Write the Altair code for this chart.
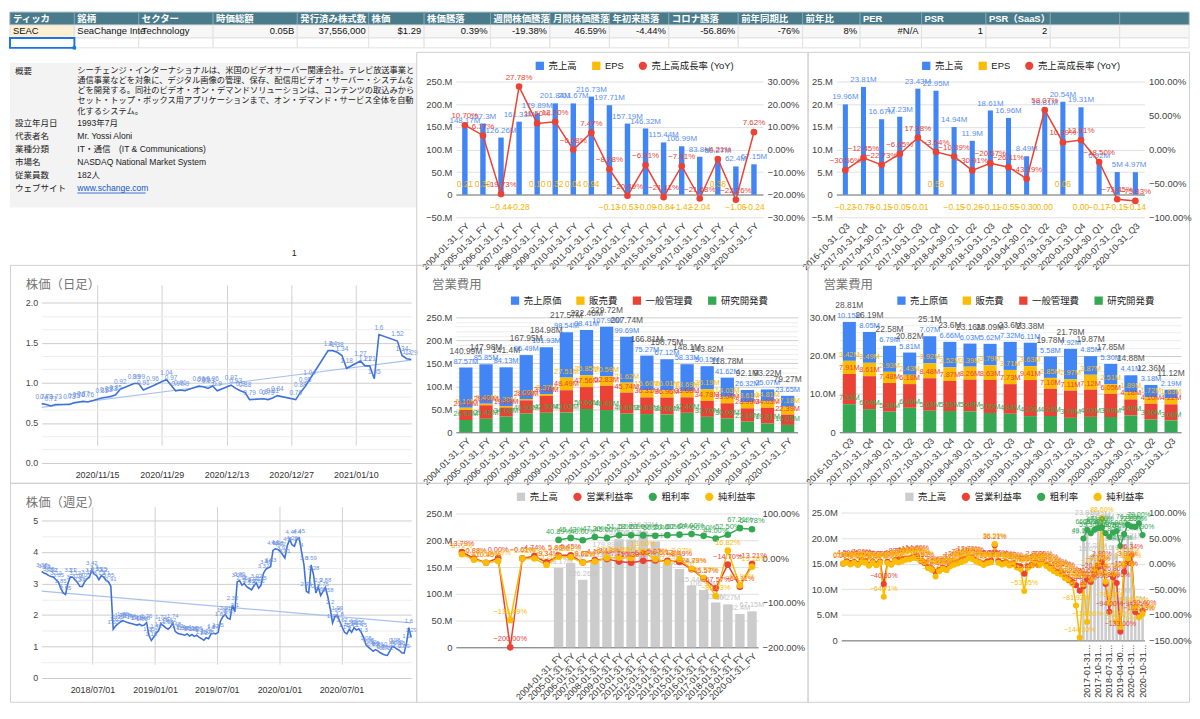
import altair as alt
import pandas as pd

# =============================== DATA ===============================
HEADERS = ["ティッカ", "銘柄", "セクター", "時価総額", "発行済み株式数", "株価", "株価騰落",
           "週間株価騰落", "月間株価騰落", "年初来騰落", "コロナ騰落", "前年同期比", "前年比",
           "PER", "PSR", "PSR（SaaS）", "", ""]
ROW_VALUES = ["SEAC", "SeaChange Inte", "Technology", "0.05B", "37,556,000", "$1.29", "0.39%",
              "-19.38%", "46.59%", "-4.44%", "-56.86%", "-76%", "8%", "#N/A", "1", "2", "", ""]

INFO_LABELS = ["概要", "設立年月日", "代表者名", "業種分類", "市場名", "従業員数", "ウェブサイト"]
INFO_VALUES = ["", "1993年7月", "Mr. Yossi Aloni", "IT・通信　(IT & Communications)",
               "NASDAQ National Market System", "182人", "www.schange.com"]
DESC_LINES = [
    "シーチェンジ・インターナショナルは、米国のビデオサーバー関連会社。テレビ放送事業と",
    "通信事業などを対象に、デジタル画像の管理、保存、配信用ビデオ・サーバー・システムな",
    "どを開発する。同社のビデオ・オン・デマンドソリューションは、コンテンツの取込みから",
    "セット・トップ・ボックス用アプリケーションまで、オン・デマンド・サービス全体を自動",
    "化するシステム。",
]
PAGE_NO = "1"

FY = ["2004-01-31_FY", "2005-01-31_FY", "2006-01-31_FY", "2007-01-31_FY", "2008-01-31_FY",
      "2009-01-31_FY", "2010-01-31_FY", "2011-01-31_FY", "2012-01-31_FY", "2013-01-31_FY",
      "2014-01-31_FY", "2015-01-31_FY", "2016-01-31_FY", "2017-01-31_FY", "2018-01-31_FY",
      "2019-01-31_FY", "2020-01-31_FY"]
REV_FY = [148.17, 157.30, 126.26, 161.33, 179.89, 201.84, 201.67, 216.73, 197.71, 157.19,
          146.32, 115.44, 106.99, 83.80, 80.27, 62.40, 67.15]
EPS_FY = [0.21, 0.30, -0.44, -0.28, 0.10, 0.32, 0.04, 0.94, -0.13, -0.53, -0.09, -0.84,
          -1.42, -2.04, 0.38, -1.06, -0.24]
YOY_FY = [10.70, 6.17, -19.73, 27.78, 11.50, 12.20, -0.08, 7.47, -8.78, -20.49, -6.91,
          -21.11, -7.31, -21.68, -4.21, -22.26, 7.62]

Q = ["2016-10-31_Q3", "2017-01-31_Q4", "2017-04-30_Q1", "2017-07-31_Q2", "2017-10-31_Q3",
     "2018-01-31_Q4", "2018-04-30_Q1", "2018-07-31_Q2", "2018-10-31_Q3", "2019-01-31_Q4",
     "2019-04-30_Q1", "2019-07-31_Q2", "2019-10-31_Q3", "2020-01-31_Q4", "2020-04-30_Q1",
     "2020-07-31_Q2", "2020-10-31_Q3"]
REV_Q = [19.96, 23.81, 16.67, 17.23, 23.43, 22.95, 14.94, 11.90, 18.61, 16.96, 8.49, 18.81,
         20.54, 19.31, 6.92, 5.00, 4.97]
EPS_Q = [-0.23, -0.78, -0.15, -0.05, -0.01, 0.58, -0.15, -0.26, -0.11, -0.55, -0.30, 0.00,
         0.06, 0.00, -0.17, -0.15, -0.14]
YOY_Q = [-30.56, -12.45, -22.73, -6.65, 17.38, -3.64, -10.39, -30.91, -20.57, -26.11, -43.19,
         58.07, 10.39, 13.91, -18.50, -73.45, -75.83]

DAILY_DATES = ["2020-11-03", "2020-11-04", "2020-11-05", "2020-11-06", "2020-11-09", "2020-11-10",
               "2020-11-11", "2020-11-12", "2020-11-13", "2020-11-16", "2020-11-17", "2020-11-18",
               "2020-11-19", "2020-11-20", "2020-11-23", "2020-11-24", "2020-11-25", "2020-11-27",
               "2020-11-30", "2020-12-01", "2020-12-02", "2020-12-03", "2020-12-04", "2020-12-07",
               "2020-12-08", "2020-12-09", "2020-12-10", "2020-12-11", "2020-12-14", "2020-12-15",
               "2020-12-16", "2020-12-17", "2020-12-18", "2020-12-21", "2020-12-22", "2020-12-23",
               "2020-12-24", "2020-12-28", "2020-12-29", "2020-12-30", "2020-12-31", "2021-01-04",
               "2021-01-05", "2021-01-06", "2021-01-07", "2021-01-08", "2021-01-11", "2021-01-12",
               "2021-01-13", "2021-01-14", "2021-01-15", "2021-01-19", "2021-01-20", "2021-01-21",
               "2021-01-22"]
DAILY_CLOSE = [0.74, 0.73, 0.71, 0.73, 0.73, 0.75, 0.76, 0.77, 0.76, 0.81, 0.82, 0.83, 0.85,
               0.92, 0.99, 0.99, 0.91, 0.96, 1.04, 0.97, 0.90, 0.91, 0.90, 0.96, 0.95, 0.93,
               0.96, 0.90, 0.97, 0.93, 0.90, 0.88, 0.79, 0.80, 0.79, 0.81, 0.84, 0.79, 0.88,
               0.95, 1.04, 1.40, 1.40, 1.38, 1.34, 1.18, 1.27, 1.21, 1.21, 1.05, 1.60, 1.52,
               1.34, 1.30, 1.29]

WEEKLY_START = "2018-02-02"
WEEKLY_CLOSE = [3.38, 3.33, 3.30, 3.25, 3.22, 3.20, 3.12, 3.05, 2.85, 2.70,
                2.65, 3.00, 3.21, 3.20, 3.12, 3.03, 2.91, 2.90, 3.05, 3.15,
                3.20, 3.42, 3.30, 3.25, 3.12, 3.25, 3.20, 3.10, 3.05, 2.91,
                1.55, 1.65, 1.72, 1.78, 1.82, 1.79, 1.76, 1.74, 1.72, 1.70,
                1.68, 1.71, 1.66, 1.68, 1.76, 1.35, 1.19, 1.30, 1.42, 1.50,
                1.72, 1.66, 1.60, 1.55, 1.62, 1.74, 1.48, 1.42, 1.40, 1.38,
                1.36, 1.40, 1.33, 1.38, 1.32, 1.36, 1.30, 1.25, 1.20, 1.28,
                1.25, 1.40, 1.42, 1.40, 1.45, 1.81, 1.95, 2.01, 1.90, 1.87,
                2.32, 2.10, 3.05, 3.09, 2.95, 3.00, 2.90, 2.85, 2.80, 2.92,
                3.02, 2.85, 2.95, 3.32, 3.45, 3.50, 3.53, 4.05, 4.10, 4.08,
                4.02, 3.92, 3.81, 4.20, 4.40, 4.23, 4.18, 4.40, 4.45, 4.00,
                3.60, 2.75, 2.70, 3.59, 3.28, 2.70, 2.90, 2.62, 2.75, 2.88,
                2.58, 2.20, 1.75, 1.95, 1.99, 1.80, 1.62, 1.45, 1.40, 1.55,
                1.45, 1.60, 1.52, 1.56, 1.45, 1.30, 1.05, 0.98, 0.92, 0.85,
                0.90, 0.86, 0.80, 0.76, 0.73, 0.72, 0.85, 1.00, 0.98, 0.92,
                0.88, 0.80, 0.79, 1.10, 1.60, 1.29]

OPEX_SERIES = ["売上原価", "販売費", "一般管理費", "研究開発費"]
COGS_FY = [87.57, 85.85, 84.13, 95.49, 101.93, 98.54, 98.41, 107.90, 99.69, 75.27, 67.12,
           58.33, 50.15, 41.62, 26.32, 25.07, 23.65]
SELL_FY = [5.10, 3.40, 3.30, 3.00, 3.37, 27.51, 25.85, 20.59, 21.62, 15.60, 16.01, 13.69,
           25.19, 14.03, 13.61, 14.81, 17.18]
GA_FY = [21.39, 29.31, 19.89, 28.53, 37.38, 48.49, 47.56, 52.83, 45.74, 36.31, 36.96, 33.68,
         34.78, 33.04, 28.99, 34.03, 22.39]
RD_FY = [26.93, 29.42, 34.08, 40.93, 42.30, 43.03, 50.66, 48.40, 40.69, 39.63, 38.66, 42.40,
         33.70, 30.09, 23.18, 19.31, 16.05]
COGS_Q = [10.15, 8.05, 6.79, 5.81, 7.07, 6.66, 6.03, 5.62, 7.32, 6.11, 5.58, 7.92, 4.85, 5.30,
          4.41, 3.18, 2.19]
SELL_Q = [3.42, 3.49, 2.93, 2.43, 3.92, 3.52, 3.39, 3.79, 3.71, 3.63, 2.85, 2.97, 3.87, 2.51,
          1.89, 1.72, 1.63]
GA_Q = [7.91, 8.61, 7.48, 6.18, 8.48, 7.87, 8.26, 8.63, 7.73, 9.41, 7.10, 7.11, 7.12, 6.05,
        4.18, 4.10, 4.22]
RD_Q = [7.33, 6.04, 5.38, 6.40, 5.63, 5.55, 5.48, 5.05, 4.84, 4.23, 4.25, 3.78, 4.03, 3.99,
        4.40, 3.36, 3.08]

MARGIN_SERIES = ["売上高", "営業利益率", "粗利率", "純利益率"]
# annual margins: 8 earlier unlabeled periods + the 17 fiscal years
OPM_FY = [13.79, -0.88, -10.45, 0.00, -200.0, -0.61, 4.74, -9.34,
          5.80, 6.45, -9.62, -4.10, -2.18, -7.79, -10.30, -6.00, -5.07, -6.12, -8.49,
          -24.79, -45.57, -67.57, -14.70, -64.11, -13.21]
NPM_FY = [8.72, -3.53, -10.50, -6.69, -138.89, -1.02, -0.93, -15.26,
          3.05, 1.82, -9.75, -7.77, 0.57, 0.74, 0.56, 13.60, -2.03, -10.03, -2.07,
          -23.81, -44.58, -85.03, 16.82, -60.90, -19.28]
GPM_FY = [40.89, 45.43, 40.00, 47.30, 45.00, 51.18, 51.20, 51.00, 50.20, 51.50, 52.60, 54.00,
          50.00, 44.00, 52.50, 67.21, 64.78]
# quarterly margins: 65 earlier unlabeled quarters + the 17 recent quarters
OPM_Q = [0.00, 4.5, 1.2, 3.0, -0.8, 7.3, 5.1, -2.2, 3.9, -0.5, 4.0, -40.0, 3.5, -0.9, 6.2,
         8.39, 9.54, 9.91, 10.6, 13.9, 14.8, 5.2, 1.5, -7.29, -10.3, -16.4, -12.1, -8.6, -9.9,
         -3.2, 1.4, 2.74, 7.15, 9.48, 12.7, 11.4, 6.2, 2.9, 0.3, 4.5, 6.04, 36.21, 5.7, 1.4,
         3.4, -1.9, 0.8, -4.4, -5.5, -19.81, -5.61, -1.5, 2.9, -0.8, 3.2, -2.1, -7.6, -12.8,
         -16.5, -18.49, -26.3, -30.2, -35.5, -42.1, -52.8,
         -44.3, -30.61, -35.5, -20.8, -7.1, 2.8, -39.94, -94.0, -26.8, -37.9, -133.0, -15.8,
         3.3, 16.34, -94.45, -102.13, -92.4]
NPM_Q = [0.49, 2.1, -1.5, 1.8, -2.5, 3.2, 2.0, -4.1, 1.5, -3.0, 2.4, -64.71, 1.1, -2.2, 4.5,
         2.3, 5.1, 7.8, 8.5, 11.2, 10.4, 6.3, 3.1, -8.2, -12.4, -25.03, -14.7, -10.2, -12.76,
         -5.13, -2.0, 0.5, 3.2, 5.6, 11.0, 8.9, 4.1, 1.2, -2.5, 0.8, 2.3, 38.5, 1.9, -1.8, 0.6,
         -3.4, -1.3, -7.6, -10.61, -53.55, -8.2, -3.6, 0.4, -2.9, 1.5, -4.3, -9.94, -14.8,
         -18.65, -21.2, -28.4, -32.9, -38.90, -81.92, -144.3,
         -40.3, -114.06, -31.5, -10.2, -1.5, 88.6, -35.1, -76.30, -20.56, -113.5, -123.7, 0.0,
         10.2, 0.0, -86.0, -105.0, -98.6]
GPM_Q = [49.16, 66.20, 59.30, 66.30, 69.80, 71.00, 59.60, 52.80, 60.70, 64.00, 34.27, 57.90,
         76.38, 72.60, 71.90, 79.00, 55.90]
Q_SHOWN = ["2017-01-31_Q4", "2017-10-31_Q3", "2018-07-31_Q2", "2019-04-30_Q1",
           "2020-01-31_Q4", "2020-10-31_Q3"]

# =============================== STYLE / LAYOUT ===============================
FONT = "Liberation Sans, Noto Sans CJK JP, sans-serif"
BLUE, YELLOW, RED, GREEN, GREYBAR = "#4285f4", "#fbbc04", "#ea4335", "#34a853", "#cccccc"
LINE_BLUE, TREND_BLUE, LBL_BLUE = "#3f72d9", "#a9c1f0", "#6b92e3"
TITLE_GREY = "#757575"
GRID = "#e0e0e0"
AX_LBL = "#333333"
HDR_BG, HDR_LINE, TICKER_BG, ROW_BG, CELL_LINE = "#4a7b8b", "#7fa3af", "#fcefd3", "#f7f7f7", "#e2e2e2"

COL_EDGES = [0, 65, 130, 205, 290, 362, 418, 485, 545, 605, 665, 735, 800, 858, 920, 985,
             1050, 1120, 1190]
ROW_EDGES = [0, 13, 26, 36]
TABLE_W, TABLE_H = 1190, 38
COLW = [410, 395, 385]
ROWH = [215, 220, 221]
INFO_SLOTS = [0, 4, 5, 6, 7, 8, 9]
XLBL = 9
YLBL = 9.5

PCT = "format(datum.value, '.2f') + '%'"


def grid_zero():
    return {"condition": {"test": "datum.value === 0", "value": "#5f6368"}, "value": GRID}


def title(text):
    return alt.TitleParams(text, anchor="start", frame="group", offset=-27, dx=16, fontSize=12.5,
                           fontWeight="normal", color=TITLE_GREY, font=FONT)


# =============================== TABLE ===============================
def table_chart():
    n = len(HEADERS)
    xs = alt.Scale(domain=list(range(n + 1)), range=COL_EDGES, zero=False, nice=False)
    ys = alt.Scale(domain=[0, 1, 2, 3], range=ROW_EDGES, zero=False, nice=False)
    cells = pd.DataFrame({"col": list(range(n)) * 3, "row": [0] * n + [1] * n + [2] * n})
    rect = alt.Chart(cells).transform_calculate(
        c2="datum.col + 1", r2="datum.row + 1",
        fill=f"datum.row == 0 ? '{HDR_BG}' : (datum.row == 1 ? (datum.col == 0 ? '{TICKER_BG}' : '{ROW_BG}') : '#ffffff')",
        strk=f"datum.row == 0 ? '{HDR_LINE}' : '{CELL_LINE}'",
    ).mark_rect(strokeWidth=1).encode(
        x=alt.X("col:Q", scale=xs, axis=None), x2="c2:Q",
        y=alt.Y("row:Q", scale=ys, axis=None), y2="r2:Q",
        fill=alt.Fill("fill:N", scale=None), stroke=alt.Stroke("strk:N", scale=None))
    hdr = alt.Chart(pd.DataFrame({"col": list(range(n)), "txt": HEADERS})).transform_calculate(
        ym="0.5").mark_text(align="left", dx=3, baseline="middle", color="white",
                            fontWeight="bold", fontSize=9.5, font=FONT).encode(
        x=alt.X("col:Q", scale=xs, axis=None), y=alt.Y("ym:Q", scale=ys, axis=None), text="txt:N")
    vals = alt.Chart(pd.DataFrame({"col": list(range(n)), "txt": ROW_VALUES}))
    vleft = vals.transform_filter("datum.col < 3").transform_calculate(ym="1.5").mark_text(
        align="left", dx=3, baseline="middle", color="#111", fontSize=9.5, font=FONT).encode(
        x=alt.X("col:Q", scale=xs, axis=None), y=alt.Y("ym:Q", scale=ys, axis=None), text="txt:N")
    vright = vals.transform_filter("datum.col >= 3").transform_calculate(
        ym="1.5", xe="datum.col + 1").mark_text(
        align="right", dx=-3, baseline="middle", color="#111", fontSize=9.5, font=FONT).encode(
        x=alt.X("xe:Q", scale=xs, axis=None), y=alt.Y("ym:Q", scale=ys, axis=None), text="txt:N")
    sel = alt.Chart(pd.DataFrame({"col": [0], "row": [2]})).transform_calculate(
        c2="datum.col + 1", r2="datum.row + 1")
    sel_rect = sel.mark_rect(fill="white", stroke="#1a73e8", strokeWidth=2).encode(
        x=alt.X("col:Q", scale=xs, axis=None), x2="c2:Q",
        y=alt.Y("row:Q", scale=ys, axis=None), y2="r2:Q")
    sel_handle = sel.mark_square(size=12, color="#1a73e8", opacity=1).encode(
        x=alt.X("c2:Q", scale=xs, axis=None), y=alt.Y("r2:Q", scale=ys, axis=None))
    return alt.layer(rect, hdr, vleft, vright, sel_rect, sel_handle).properties(
        width=TABLE_W, height=TABLE_H, view=alt.ViewBackground(stroke="transparent"))


# =============================== INFO ===============================
def info_chart(W, H):
    xs = alt.Scale(domain=[0, 1], range=[5, 68], zero=False, nice=False)
    ys = alt.Scale(domain=[0, 9], range=[19.5, 137.5], zero=False, nice=False)
    df = pd.DataFrame({"label": INFO_LABELS, "value": INFO_VALUES, "slot": INFO_SLOTS})
    one = pd.DataFrame({"k": [0]})
    bg = alt.Chart(one).mark_rect(color="#f3f3f3").encode(
        x=alt.value(0), x2=alt.value(W), y=alt.value(11), y2=alt.value(157))
    base = alt.Chart(df).transform_calculate(c0="0", c1="1")
    labels = base.mark_text(align="left", baseline="middle", fontSize=8.6, color="#222",
                            font=FONT).encode(
        x=alt.X("c0:Q", scale=xs, axis=None), y=alt.Y("slot:Q", scale=ys, axis=None), text="label:N")
    values = base.transform_filter("datum.slot > 0 && datum.slot < 9").mark_text(
        align="left", baseline="middle", fontSize=8.6, color="#222", font=FONT).encode(
        x=alt.X("c1:Q", scale=xs, axis=None), y=alt.Y("slot:Q", scale=ys, axis=None), text="value:N")
    link = base.transform_filter("datum.slot == 9").mark_text(
        align="left", baseline="middle", fontSize=8.6, color="#1155cc", font=FONT).encode(
        x=alt.X("c1:Q", scale=xs, axis=None), y=alt.Y("slot:Q", scale=ys, axis=None), text="value:N")
    desc = alt.Chart(pd.DataFrame({"t": ["\n".join(DESC_LINES)], "slot": [0]})).transform_calculate(
        c1="1").mark_text(align="left", baseline="top", dy=-5, lineBreak="\n", lineHeight=10.2,
                          fontSize=8.3, color="#222", font=FONT).encode(
        x=alt.X("c1:Q", scale=xs, axis=None), y=alt.Y("slot:Q", scale=ys, axis=None), text="t:N")
    underline = alt.Chart(one).mark_rule(color="#1155cc", strokeWidth=0.8).encode(
        x=alt.value(68), x2=alt.value(137), y=alt.value(142.5))
    page = alt.Chart(pd.DataFrame({"t": [PAGE_NO]})).mark_text(
        fontSize=9, color="#222", font=FONT).encode(x=alt.value(287), y=alt.value(203), text="t:N")
    return alt.layer(bg, labels, values, link, desc, underline, page).properties(
        width=W, height=H, view=alt.ViewBackground(stroke="transparent"))


# =============================== REVENUE (bars + EPS + YoY) ===============================
LEG_REV = ["売上高", "EPS", "売上高成長率 (YoY)"]


def revenue_panel(cats, rev, eps, yoy, W, H, xr, yr, ydom, yvals, ylab, rdom, rvals, legx, pad):
    df = pd.DataFrame({"cat": cats, "rev": rev, "eps": eps, "yoy": yoy})
    df["s_rev"] = LEG_REV[0]
    df["s_yoy"] = LEG_REV[2]
    df["zero"] = 0.0
    cs = alt.Scale(domain=LEG_REV, range=[BLUE, YELLOW, RED])
    ss = alt.Scale(domain=LEG_REV, range=["square", "square", "circle"])
    leg = alt.Legend(orient="none", legendX=legx, legendY=9, direction="horizontal", title=None,
                     symbolSize=70, columnPadding=14, labelFontSize=9.5)

    def X():
        return alt.X("cat:N", sort=cats,
                     scale=alt.Scale(domain=cats, range=xr, paddingInner=pad, paddingOuter=pad / 2),
                     axis=alt.Axis(title=None, labelAngle=-45, labelAlign="right", labelBaseline="top",
                                   offset=yr[0] - H, labelPadding=4, labelFontSize=XLBL,
                                   labelColor=AX_LBL, grid=False))

    def YL(f):
        return alt.Y(f, scale=alt.Scale(domain=ydom, range=yr, nice=False, zero=False),
                     axis=alt.Axis(title=None, values=yvals, labelExpr=ylab, offset=-xr[0],
                                   gridColor=grid_zero(), labelPadding=4, labelFontSize=YLBL))

    def YR(f):
        return alt.Y(f, scale=alt.Scale(domain=rdom, range=yr, nice=False, zero=False),
                     axis=alt.Axis(title=None, orient="right", values=rvals, labelExpr=PCT,
                                   offset=xr[1] - W, grid=False, labelPadding=4, labelFontSize=YLBL))

    base = alt.Chart(df)
    bars = base.mark_bar().encode(x=X(), y=YL("rev:Q"),
                                  color=alt.Color("s_rev:N", scale=cs, legend=leg))
    rev_t = base.transform_calculate(t="format(datum.rev, '.2~f') + 'M'").mark_text(
        fontSize=8, color="#5a8ff0", baseline="bottom", dy=-3).encode(x=X(), y=YL("rev:Q"), text="t:N")
    eps_p = base.transform_filter("datum.eps > 0").transform_calculate(
        t="format(datum.eps, '.2f')").mark_text(fontSize=8.5, color="#f4b400", dy=-11).encode(
        x=X(), y=YL("zero:Q"), text="t:N")
    eps_n = base.transform_filter("datum.eps <= 0").transform_calculate(
        t="format(datum.eps, '.2f')").mark_text(fontSize=8.5, color="#f4b400", dy=12).encode(
        x=X(), y=YL("zero:Q"), text="t:N")
    left = alt.layer(bars, rev_t, eps_p, eps_n)
    line = base.mark_line(color=RED, strokeWidth=1.5).encode(x=X(), y=YR("yoy:Q"))
    pts = base.mark_point(filled=True, opacity=1, size=45).encode(
        x=X(), y=YR("yoy:Q"), color=alt.Color("s_yoy:N", scale=cs, legend=leg),
        shape=alt.Shape("s_yoy:N", scale=ss, legend=leg))
    yoy_t = base.transform_calculate(t="format(datum.yoy, '.2f') + '%'").mark_text(
        fontSize=8, color=RED, dy=-9).encode(x=X(), y=YR("yoy:Q"), text="t:N")
    right = alt.layer(line, pts, yoy_t)
    return alt.layer(left, right).resolve_scale(y="independent").properties(width=W, height=H)


# =============================== PRICE LINES ===============================
def price_panel(dates, closes, W, H, xr, yr, ydom, yvals, major_test, ylab, tick_dates, ttl, lbl_size):
    df = pd.DataFrame({"date": dates, "close": closes})
    gridc = {"condition": {"test": major_test, "value": "#cccccc"}, "value": "#ededed"}

    def X():
        return alt.X("date:T", scale=alt.Scale(range=xr, nice=False),
                     axis=alt.Axis(title=None, values=tick_dates, format="%Y/%m/%d", offset=yr[0] - H,
                                   labelPadding=8, labelFontSize=9, labelColor=AX_LBL,
                                   gridColor="#d0d0d0"))

    def Y(f):
        return alt.Y(f, scale=alt.Scale(domain=ydom, range=yr, nice=False, zero=False),
                     axis=alt.Axis(title=None, values=yvals, labelExpr=ylab, offset=-xr[0],
                                   gridColor=gridc, labelPadding=4, labelFontSize=9))

    base = alt.Chart(df)
    trend = base.transform_regression("date", "close").mark_line(
        color=TREND_BLUE, strokeWidth=1.2).encode(x=X(), y=Y("close:Q"))
    line = base.mark_line(color=LINE_BLUE, strokeWidth=1.6).encode(x=X(), y=Y("close:Q"))
    lbl = base.transform_calculate(t="format(datum.close, '.2~f')").mark_text(
        fontSize=lbl_size, color=LBL_BLUE, dy=-7).encode(x=X(), y=Y("close:Q"), text="t:N")
    return alt.layer(trend, line, lbl).properties(width=W, height=H, title=title(ttl))


# =============================== OPEX STACKED ===============================
STACK_ORDER = {"研究開発費": 0, "一般管理費": 1, "販売費": 2, "売上原価": 3}


def opex_panel(cats, lists, W, H, xr, yr, ydom, yvals, major, ylab, legx, pad, seg_fmt):
    rows = []
    for s, vals in zip(OPEX_SERIES, lists):
        for c, v in zip(cats, vals):
            rows.append({"cat": c, "series": s, "v": v, "ord": STACK_ORDER[s]})
    df = pd.DataFrame(rows)
    cs = alt.Scale(domain=OPEX_SERIES, range=[BLUE, YELLOW, RED, GREEN])
    leg = alt.Legend(orient="none", legendX=legx, legendY=31, direction="horizontal", title=None,
                     symbolType="square", symbolSize=70, columnPadding=14, labelFontSize=9.5)
    gridc = {"condition": [{"test": "datum.value === 0", "value": "#5f6368"},
                           {"test": major, "value": "#cccccc"}], "value": "#eeeeee"}

    def X():
        return alt.X("cat:N", sort=cats,
                     scale=alt.Scale(domain=cats, range=xr, paddingInner=pad, paddingOuter=pad / 2),
                     axis=alt.Axis(title=None, labelAngle=-45, labelAlign="right", labelBaseline="top",
                                   offset=yr[0] - H, labelPadding=4, labelFontSize=XLBL,
                                   labelColor=AX_LBL, grid=False))

    def Y(f, stack=None):
        kw = {}
        if stack is not None:
            kw["stack"] = stack
        return alt.Y(f, scale=alt.Scale(domain=ydom, range=yr, nice=False, zero=False),
                     axis=alt.Axis(title=None, values=yvals, labelExpr=ylab, offset=-xr[0],
                                   gridColor=gridc, labelPadding=4, labelFontSize=YLBL), **kw)

    base = alt.Chart(df)
    bars = base.mark_bar().encode(x=X(), y=Y("v:Q", stack="zero"),
                                  color=alt.Color("series:N", scale=cs, legend=leg),
                                  order=alt.Order("ord:Q", sort="ascending"))
    seg = base.transform_stack(stack="v", groupby=["cat"], as_=["y0", "y1"],
                               sort=[alt.SortField("ord", order="ascending")]).transform_calculate(
        t=f"format(datum.v, '{seg_fmt}') + 'M'").mark_text(
        fontSize=7.5, baseline="bottom", dy=-2).encode(
        x=X(), y=Y("y1:Q"), color=alt.Color("series:N", scale=cs, legend=None), text="t:N")
    tot = base.transform_aggregate(total="sum(v)", groupby=["cat"]).transform_calculate(
        t="format(datum.total, '.2~f') + 'M'").mark_text(
        fontSize=8.5, baseline="bottom", dy=-12, color="#555").encode(
        x=X(), y=Y("total:Q"), text="t:N")
    return alt.layer(bars, seg, tot).properties(width=W, height=H, title=title("営業費用"))


# =============================== MARGINS ===============================
def margin_panel(cats, bar_cats, rev, opm, npm, gpm, W, H, xr, yr, ydom, yvals, ylab, rdom,
                 rvals, legx, pad, xlab_expr, xangle, xbase, lbl_size, pt_size):
    cs = alt.Scale(domain=MARGIN_SERIES, range=[GREYBAR, RED, GREEN, YELLOW])
    ss = alt.Scale(domain=MARGIN_SERIES, range=["square", "circle", "circle", "circle"])
    leg = alt.Legend(orient="none", legendX=legx, legendY=9, direction="horizontal", title=None,
                     symbolSize=70, columnPadding=14, labelFontSize=9.5)
    bdf = pd.DataFrame({"cat": bar_cats, "rev": rev})
    bdf["s"] = MARGIN_SERIES[0]
    rows = []
    for s, vals, cl in [(MARGIN_SERIES[1], opm, cats), (MARGIN_SERIES[3], npm, cats),
                        (MARGIN_SERIES[2], gpm, bar_cats)]:
        for c, v in zip(cl, vals):
            rows.append({"cat": c, "idx": cats.index(c), "series": s, "v": v})
    ldf = pd.DataFrame(rows)

    def X():
        return alt.X("cat:N", sort=cats,
                     scale=alt.Scale(domain=cats, range=xr, paddingInner=pad, paddingOuter=pad / 2),
                     axis=alt.Axis(title=None, labelAngle=xangle, labelAlign="right", labelBaseline=xbase,
                                   labelExpr=xlab_expr, offset=yr[0] - H, labelPadding=4,
                                   labelFontSize=XLBL, labelColor=AX_LBL, grid=False))

    def YL(f):
        return alt.Y(f, scale=alt.Scale(domain=ydom, range=yr, nice=False, zero=False),
                     axis=alt.Axis(title=None, values=yvals, labelExpr=ylab, offset=-xr[0],
                                   gridColor=grid_zero(), labelPadding=4, labelFontSize=YLBL))

    def YR(f):
        return alt.Y(f, scale=alt.Scale(domain=rdom, range=yr, nice=False, zero=False),
                     axis=alt.Axis(title=None, orient="right", values=rvals, labelExpr=PCT,
                                   offset=xr[1] - W, grid=False, labelPadding=4, labelFontSize=YLBL))

    bb = alt.Chart(bdf)
    bars = bb.mark_bar().encode(x=X(), y=YL("rev:Q"), color=alt.Color("s:N", scale=cs, legend=leg))
    btxt = bb.transform_calculate(t="format(datum.rev, '.2~f') + 'M'").mark_text(
        fontSize=7.5, color="#c4c4c4", baseline="bottom", dy=-2).encode(
        x=X(), y=YL("rev:Q"), text="t:N")
    left = alt.layer(bars, btxt)
    lb = alt.Chart(ldf)
    lines = lb.mark_line(strokeWidth=1.5).encode(
        x=X(), y=YR("v:Q"), color=alt.Color("series:N", scale=cs, legend=None),
        order=alt.Order("idx:Q"))
    pts = lb.mark_point(filled=True, opacity=1, size=pt_size).encode(
        x=X(), y=YR("v:Q"), color=alt.Color("series:N", scale=cs, legend=leg),
        shape=alt.Shape("series:N", scale=ss, legend=leg))
    txt = lb.transform_calculate(t="format(datum.v, '.2f') + '%'").mark_text(
        fontSize=lbl_size, dy=-8).encode(
        x=X(), y=YR("v:Q"), color=alt.Color("series:N", scale=cs, legend=None), text="t:N")
    right = alt.layer(lines, pts, txt)
    return alt.layer(left, right).resolve_scale(y="independent").properties(width=W, height=H)


# =============================== BUILD ===============================
table = table_chart()
info = info_chart(COLW[0], ROWH[0])

panel_a = revenue_panel(FY, REV_FY, EPS_FY, YOY_FY, COLW[1], ROWH[0], [40, 350], [167, 30],
                        [-50, 250], [-50, 0, 50, 100, 150, 200, 250],
                        "datum.value == 0 ? '0' : format(datum.value, 'd') + '.M'",
                        [-30, 30], [-30, -20, -10, 0, 10, 20, 30], 120, 0.7)
panel_b = revenue_panel(Q, REV_Q, EPS_Q, YOY_Q, COLW[2], ROWH[0], [29, 340], [167, 30],
                        [-5, 25], [-5, 0, 5, 10, 15, 20, 25],
                        "datum.value == 0 ? '0' : format(datum.value, 'd') + '.M'",
                        [-100, 100], [-100, -50, 0, 50, 100], 115, 0.72)

daily_ticks = [alt.DateTime(year=2020, month=11, date=15), alt.DateTime(year=2020, month=11, date=29),
               alt.DateTime(year=2020, month=12, date=13), alt.DateTime(year=2020, month=12, date=27),
               alt.DateTime(year=2021, month=1, date=10)]
sixths = [round(i / 6, 6) for i in range(13)]
panel_c = price_panel(DAILY_DATES, DAILY_CLOSE, COLW[0], ROWH[1], [32, 405], [200, 38], [0, 2],
                      sixths, "abs(datum.value * 2 - round(datum.value * 2)) < 0.001",
                      "abs(datum.value * 2 - round(datum.value * 2)) < 0.001 ? format(datum.value, '.1f') : ''",
                      daily_ticks, "株価（日足）", 6.5)

weekly_dates = [d.strftime("%Y-%m-%d") for d in
                pd.date_range(WEEKLY_START, periods=len(WEEKLY_CLOSE), freq="W-FRI")]
weekly_ticks = [alt.DateTime(year=2018, month=7, date=1), alt.DateTime(year=2019, month=1, date=1),
                alt.DateTime(year=2019, month=7, date=1), alt.DateTime(year=2020, month=1, date=1),
                alt.DateTime(year=2020, month=7, date=1)]
halves = [i / 2 for i in range(11)]
panel_f = price_panel(weekly_dates, WEEKLY_CLOSE, COLW[0], ROWH[2], [32, 405], [197, 38], [0, 5],
                      halves, "datum.value % 1 == 0",
                      "datum.value % 1 == 0 ? format(datum.value, 'd') : ''",
                      weekly_ticks, "株価（週足）", 6)

panel_d = opex_panel(FY, [COGS_FY, SELL_FY, GA_FY, RD_FY], COLW[1], ROWH[1], [40, 385], [169, 53],
                     [0, 250], list(range(0, 251, 10)), "datum.value % 50 == 0",
                     "datum.value % 50 == 0 ? (datum.value == 0 ? '0' : datum.value + '.M') : ''",
                     95, 0.34, ".2f")
panel_e = opex_panel(Q, [COGS_Q, SELL_Q, GA_Q, RD_Q], COLW[2], ROWH[1], [32, 377], [169, 53],
                     [0, 30], list(range(0, 31, 2)), "datum.value % 10 == 0",
                     "datum.value % 10 == 0 ? (datum.value == 0 ? '0' : format(datum.value, '.1f') + 'M') : ''",
                     90, 0.35, ".2f")

g_cats = [f"g{i}" for i in range(len(OPM_FY) - len(FY))] + FY
panel_g = margin_panel(g_cats, FY, REV_FY, OPM_FY, NPM_FY, GPM_FY, COLW[1], ROWH[2], [40, 345],
                       [166, 31], [0, 250], [0, 50, 100, 150, 200, 250],
                       "datum.value == 0 ? '0' : format(datum.value, 'd') + '.M'",
                       [-200, 100], [-200, -100, 0, 100], 101, 0.22,
                       "indexof(datum.value, '_FY') > 0 ? datum.value : ''", -45, "top", 7.5, 45)

h_cats = [f"k{i}" for i in range(len(OPM_Q) - len(Q))] + Q
shown = "[" + ",".join(f"'{s}'" for s in Q_SHOWN) + "]"
panel_h = margin_panel(h_cats, Q, REV_Q, OPM_Q, NPM_Q, GPM_Q, COLW[2], ROWH[2], [34, 340],
                       [159, 30], [0, 25], [0, 5, 10, 15, 20, 25],
                       "datum.value == 0 ? '0' : format(datum.value, '.1f') + 'M'",
                       [-150, 100], [-150, -100, -50, 0, 50, 100], 98, 0.3,
                       f"indexof({shown}, datum.value) >= 0 ? substring(datum.value, 0, 10) + '...' : ''",
                       -90, "middle", 7, 38)

grid = alt.concat(info, panel_a, panel_b, panel_c, panel_d, panel_e, panel_f, panel_g, panel_h,
                  columns=3, spacing=0, bounds="flush").resolve_scale(
    color="independent", shape="independent")

chart = alt.vconcat(table, grid, spacing=0).resolve_scale(
    color="independent", shape="independent"
).properties(
    padding=0, background="#ffffff"
).configure(font=FONT).configure_view(
    stroke="#cfcfcf", strokeWidth=1
).configure_axis(
    labelFont=FONT, labelColor="#444444", labelFontSize=9, domain=False, ticks=False, gridWidth=1
).configure_legend(
    labelFont=FONT, labelColor="#222222", symbolStrokeWidth=0
).configure_text(font=FONT).configure_title(font=FONT)

chart.save("out.html", embed_options={"renderer": "svg", "actions": False})
